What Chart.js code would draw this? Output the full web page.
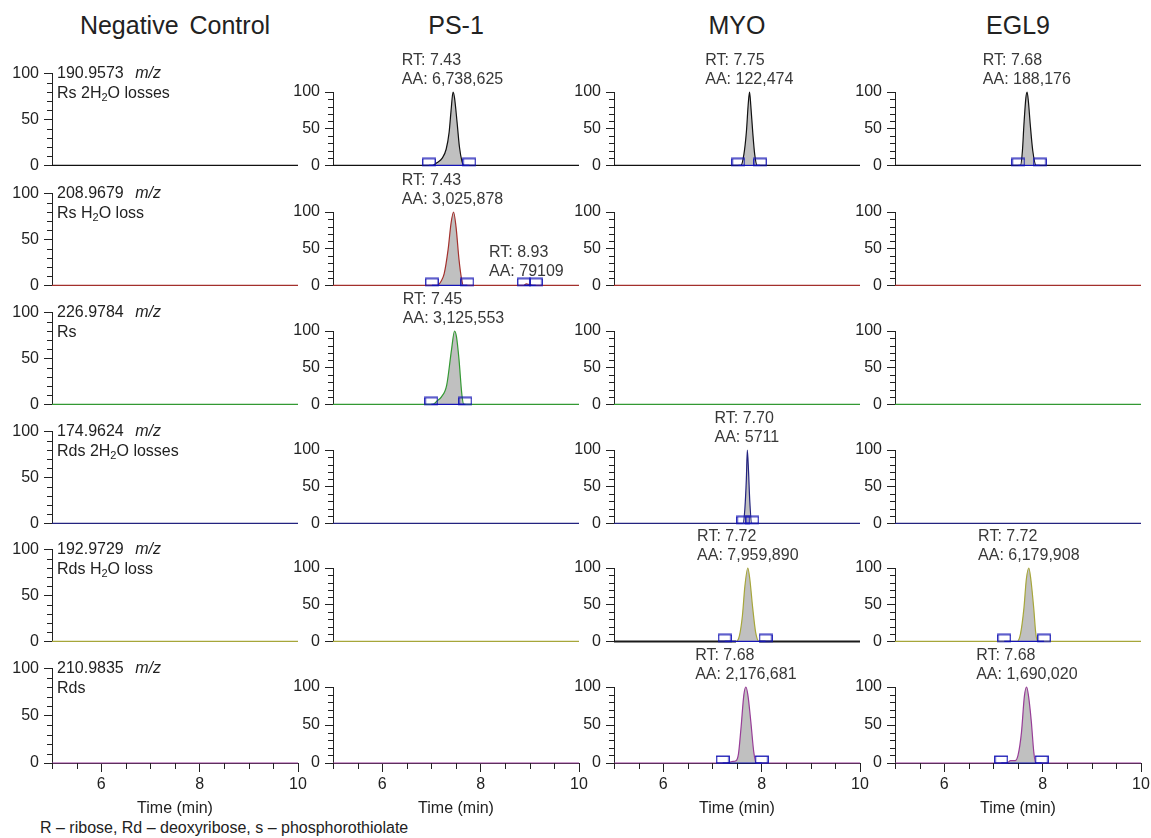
<!DOCTYPE html>
<html>
<head>
<meta charset="utf-8">
<script src="https://cdn.jsdelivr.net/npm/chart.js@4.4.1/dist/chart.umd.min.js"></script>
<style>
  body { margin: 0; background: #fff; width: 1151px; height: 838px; position: relative; overflow: hidden;
         font-family: Arial, "Liberation Sans", sans-serif; color: #222; }
  canvas { position: absolute; }
  .txt { position: absolute; white-space: nowrap; line-height: 1; }
  .title { font-size: 25px; word-spacing: 4px; transform: translate(-50%, -50%); }
  .lbl { font-size: 16px; transform: translateY(-50%); }
  .lbl sub { font-size: 11px; vertical-align: -3px; line-height: 0; }
  .axt { font-size: 16px; transform: translate(-50%, -50%); }
</style>
</head>
<body>
<script>
// ==========================================
// data
// ==========================================
const SAMPLES = ['Negative Control', 'PS-1', 'MYO', 'EGL9'];
const ION_MZ = ['190.9573', '208.9679', '226.9784', '174.9624', '192.9729', '210.9835'];
const ION_NAMES = ['Rs 2H2O losses', 'Rs H2O loss', 'Rs', 'Rds 2H2O losses', 'Rds H2O loss', 'Rds'];
const ION_COLORS = ['#111111', '#a3302c', '#339933', '#23237f', '#a6a63a', '#973c97'];

const X_MAJOR = [6, 8, 10];
const X_MINOR = [5, 5.5, 6.5, 7, 7.5, 8.5, 9, 9.5];
const Y_MAJOR = [0, 50, 100];
const Y_MINOR = [10, 20, 30, 40, 60, 70, 80, 90];
const X_TITLE = 'Time (min)';
const FOOTNOTE = 'R \u2013 ribose, Rd \u2013 deoxyribose, s \u2013 phosphorothiolate';

// traces: [time (min), relative abundance (%)]
const FLAT = [[5, 0], [10, 0]];
const PS1_RS_2H2O = [[5, 0], [7.02, 0], [7.12, 4], [7.22, 10], [7.30, 22], [7.36, 45], [7.40, 75], [7.44, 100], [7.47, 92], [7.52, 60], [7.57, 25], [7.62, 6], [7.66, 0], [10, 0]];
const PS1_RS_H2O = [[5, 0], [7.12, 0], [7.20, 6], [7.26, 16], [7.34, 49], [7.40, 85], [7.45, 100], [7.50, 80], [7.56, 36], [7.61, 10], [7.65, 0], [8.87, 0], [8.93, 2], [8.99, 1], [9.06, 0], [10, 0]];
const PS1_RS = [[5, 0], [7.03, 0], [7.12, 5], [7.20, 10], [7.31, 26], [7.41, 75], [7.47, 100], [7.51, 92], [7.56, 62], [7.62, 13], [7.66, 0], [10, 0]];
const MYO_RS_2H2O = [[5, 0], [7.58, 0], [7.64, 15], [7.69, 45], [7.73, 85], [7.755, 100], [7.78, 82], [7.82, 45], [7.86, 15], [7.91, 0], [10, 0]];
const MYO_RDS_2H2O = [[5, 0], [7.62, 0], [7.66, 20], [7.69, 60], [7.71, 100], [7.735, 70], [7.76, 30], [7.80, 0], [10, 0]];
const MYO_RDS_H2O = [[5, 0], [7.48, 0], [7.55, 8], [7.61, 35], [7.66, 75], [7.72, 100], [7.76, 85], [7.82, 45], [7.88, 12], [7.95, 0], [10, 0]];
const MYO_RDS = [[5, 0], [7.30, 0], [7.40, 2], [7.48, 3], [7.53, 12], [7.58, 45], [7.64, 90], [7.68, 100], [7.72, 90], [7.78, 55], [7.84, 15], [7.89, 0], [10, 0]];
const EGL9_RS_2H2O = [[5, 0], [7.55, 0], [7.59, 20], [7.62, 55], [7.66, 92], [7.685, 100], [7.71, 88], [7.75, 55], [7.80, 20], [7.87, 0], [10, 0]];
const EGL9_RDS_H2O = [[5, 0], [7.48, 0], [7.55, 10], [7.62, 45], [7.67, 85], [7.72, 100], [7.76, 85], [7.82, 45], [7.86, 12], [7.90, 0], [10, 0]];
const EGL9_RDS = [[5, 0], [7.27, 0], [7.35, 3], [7.44, 3], [7.50, 10], [7.57, 40], [7.63, 88], [7.675, 100], [7.71, 90], [7.77, 55], [7.82, 15], [7.86, 0], [10, 0]];

// integration bounds (min), one pair per peak
const PS1_RS_2H2O_BOUNDS = [[6.95, 7.77]];
const PS1_RS_H2O_BOUNDS = [[7.01, 7.73], [8.88, 9.12]];
const PS1_RS_BOUNDS = [[7.00, 7.69]];
const MYO_RS_2H2O_BOUNDS = [[7.53, 7.97]];
const MYO_RDS_2H2O_BOUNDS = [[7.63, 7.81]];
const MYO_RDS_H2O_BOUNDS = [[7.25, 8.08]];
const MYO_RDS_BOUNDS = [[7.21, 8.00]];
const EGL9_RS_2H2O_BOUNDS = [[7.51, 7.94]];
const EGL9_RDS_H2O_BOUNDS = [[7.22, 8.03]];
const EGL9_RDS_BOUNDS = [[7.16, 7.98]];

// peak labels: RT, area, apex (%)
const PS1_RS_2H2O_PEAKS = [['7.43', '6,738,625', 100]];
const PS1_RS_H2O_PEAKS = [['7.43', '3,025,878', 100], ['8.93', '79109', 2]];
const PS1_RS_PEAKS = [['7.45', '3,125,553', 100]];
const MYO_RS_2H2O_PEAKS = [['7.75', '122,474', 100]];
const MYO_RDS_2H2O_PEAKS = [['7.70', '5711', 100]];
const MYO_RDS_H2O_PEAKS = [['7.72', '7,959,890', 100]];
const MYO_RDS_PEAKS = [['7.68', '2,176,681', 100]];
const EGL9_RS_2H2O_PEAKS = [['7.68', '188,176', 100]];
const EGL9_RDS_H2O_PEAKS = [['7.72', '6,179,908', 100]];
const EGL9_RDS_PEAKS = [['7.68', '1,690,020', 100]];

// rows = ions, columns = samples
const TRACE_GRID = [
    [FLAT, PS1_RS_2H2O, MYO_RS_2H2O, EGL9_RS_2H2O],
    [FLAT, PS1_RS_H2O, FLAT, FLAT],
    [FLAT, PS1_RS, FLAT, FLAT],
    [FLAT, FLAT, MYO_RDS_2H2O, FLAT],
    [FLAT, FLAT, MYO_RDS_H2O, EGL9_RDS_H2O],
    [FLAT, FLAT, MYO_RDS, EGL9_RDS]
];
const BOUNDS_GRID = [
    [[], PS1_RS_2H2O_BOUNDS, MYO_RS_2H2O_BOUNDS, EGL9_RS_2H2O_BOUNDS],
    [[], PS1_RS_H2O_BOUNDS, [], []],
    [[], PS1_RS_BOUNDS, [], []],
    [[], [], MYO_RDS_2H2O_BOUNDS, []],
    [[], [], MYO_RDS_H2O_BOUNDS, EGL9_RDS_H2O_BOUNDS],
    [[], [], MYO_RDS_BOUNDS, EGL9_RDS_BOUNDS]
];
const PEAK_GRID = [
    [[], PS1_RS_2H2O_PEAKS, MYO_RS_2H2O_PEAKS, EGL9_RS_2H2O_PEAKS],
    [[], PS1_RS_H2O_PEAKS, [], []],
    [[], PS1_RS_PEAKS, [], []],
    [[], [], MYO_RDS_2H2O_PEAKS, []],
    [[], [], MYO_RDS_H2O_PEAKS, EGL9_RDS_H2O_PEAKS],
    [[], [], MYO_RDS_PEAKS, EGL9_RDS_PEAKS]
];

// ==========================================
// layout
// ==========================================
const PLOT_LEFT = [52, 333, 614, 895];
const PLOT_W = 246;
const PLOT_H = [95, 76, 76, 76];
const BASELINE = [168, 288, 407, 526, 644, 763];
const Y_AXIS_W = 52;
const PAD_RIGHT = 16;
const FONT = 'Arial, "Liberation Sans", sans-serif';
const INK = '#222';

function addText(cls, html, left, top) {
    const d = document.createElement('div');
    d.className = 'txt ' + cls;
    d.innerHTML = html;
    d.style.left = left + 'px';
    d.style.top = top + 'px';
    document.body.appendChild(d);
}

const subH2O = s => s.replace('H2O', 'H<sub>2</sub>O');

// blue open box marking integration limits, sits on the baseline
function boxMarker() {
    const c = document.createElement('canvas');
    c.width = 14; c.height = 16;
    const g = c.getContext('2d');
    g.strokeStyle = '#1414b4';
    g.lineWidth = 1.3;
    g.strokeRect(0.75, 1.2, 12.5, 6.8);
    return c;
}
const MARKER = boxMarker();

function makeExtras(peaks, showX) {
    return {
        id: 'extras',
        afterDraw(chart) {
            const { ctx, chartArea } = chart;
            const xs = chart.scales.x, ys = chart.scales.y;
            ctx.save();
            ctx.strokeStyle = INK;
            ctx.lineWidth = 1;
            ctx.beginPath();
            Y_MINOR.forEach(v => {
                const y = Math.round(ys.getPixelForValue(v)) + 0.5;
                ctx.moveTo(chartArea.left - 5, y);
                ctx.lineTo(chartArea.left, y);
            });
            if (showX) {
                X_MINOR.forEach(v => {
                    const x = Math.round(xs.getPixelForValue(v)) + 0.5;
                    ctx.moveTo(x, chartArea.bottom);
                    ctx.lineTo(x, chartArea.bottom + 6);
                });
            }
            ctx.stroke();

            ctx.font = '16px ' + FONT;
            ctx.fillStyle = '#383838';
            ctx.textBaseline = 'middle';
            ctx.textAlign = 'left';
            peaks.forEach(([rt, area, apex]) => {
                const x = xs.getPixelForValue(parseFloat(rt));
                const y = ys.getPixelForValue(apex);
                const aa = 'AA: ' + area;
                const left = x - ctx.measureText(aa).width / 2;
                ctx.fillText('RT: ' + rt, left, y - 31);
                ctx.fillText(aa, left, y - 12);
            });
            ctx.restore();
        }
    };
}

function boundsData(pairs) {
    const out = [];
    pairs.forEach((p, i) => {
        if (i > 0) out.push({ x: (pairs[i - 1][1] + p[0]) / 2, y: null });
        out.push({ x: p[0], y: 0 }, { x: p[1], y: 0 });
    });
    return out;
}

function drawPanel(row, col) {
    const last = row === ION_MZ.length - 1;
    const padTop = col === 0 ? 14 : 44;
    const padBottom = last ? 0 : 12;
    const xAxisH = last ? 34 : 0;
    const plotTop = BASELINE[row] - PLOT_H[col];

    const canvas = document.createElement('canvas');
    canvas.width = Y_AXIS_W + PLOT_W + PAD_RIGHT;
    canvas.height = padTop + PLOT_H[col] + padBottom + xAxisH;
    canvas.style.left = (PLOT_LEFT[col] - Y_AXIS_W) + 'px';
    canvas.style.top = (plotTop - padTop) + 'px';
    document.body.appendChild(canvas);

    const color = ION_COLORS[row];
    // MYO / Rds H2O loss has a dark baseline under the trace
    const darkBase = row === 4 && col === 2;

    new Chart(canvas, {
        type: 'line',
        data: {
            datasets: [
                {
                    data: boundsData(BOUNDS_GRID[row][col]),
                    showLine: true,
                    spanGaps: false,
                    borderColor: '#1414b4',
                    borderWidth: 1.2,
                    pointStyle: MARKER,
                    pointRadius: 6,
                    clip: false
                },
                {
                    data: TRACE_GRID[row][col].map(([x, y]) => ({ x, y })),
                    borderColor: color,
                    borderWidth: 1.2,
                    backgroundColor: '#c0c0c0',
                    fill: 'origin',
                    pointRadius: 0,
                    cubicInterpolationMode: 'monotone',
                    clip: false,
                    segment: darkBase ? {
                        borderColor: c => (c.p0.parsed.y === 0 && c.p1.parsed.y === 0) ? '#1a1a1a' : undefined,
                        borderWidth: c => (c.p0.parsed.y === 0 && c.p1.parsed.y === 0) ? 2 : undefined
                    } : {}
                }
            ]
        },
        options: {
            responsive: false,
            animation: false,
            events: [],
            devicePixelRatio: 1,
            layout: { padding: { left: 0, right: PAD_RIGHT, top: padTop, bottom: padBottom } },
            plugins: { legend: { display: false }, tooltip: { enabled: false } },
            scales: {
                x: {
                    type: 'linear',
                    min: 5,
                    max: 10,
                    display: last,
                    afterBuildTicks: s => { s.ticks = X_MAJOR.map(v => ({ value: v })); },
                    afterFit: s => { s.height = xAxisH; },
                    grid: { drawOnChartArea: false, drawTicks: true, tickLength: 9, color: INK },
                    border: { display: true, color: INK, width: 1 },
                    ticks: { padding: 3, maxRotation: 0, color: INK, font: { family: FONT, size: 16 } }
                },
                y: {
                    min: 0,
                    max: 100,
                    afterBuildTicks: s => { s.ticks = Y_MAJOR.map(v => ({ value: v })); },
                    afterFit: s => { s.width = Y_AXIS_W; },
                    grid: { drawOnChartArea: false, drawTicks: true, tickLength: 8, color: INK },
                    border: { display: true, color: INK, width: 1 },
                    ticks: { padding: 5, color: INK, font: { family: FONT, size: 16 } }
                }
            }
        },
        plugins: [makeExtras(PEAK_GRID[row][col], last)]
    });
}

// column headers
SAMPLES.forEach((name, col) => addText('title', name, PLOT_LEFT[col] + PLOT_W / 2, 25));

// panels
for (let row = 0; row < ION_MZ.length; row++) {
    for (let col = 0; col < SAMPLES.length; col++) drawPanel(row, col);
}

// ion labels in the first column
ION_MZ.forEach((mz, row) => {
    const plotTop = BASELINE[row] - PLOT_H[0];
    addText('lbl', mz + ' <i style="margin-left:7px">m/z</i>', 57, plotTop);
    addText('lbl', subH2O(ION_NAMES[row]), 57, plotTop + 20);
});

// x axis titles and footnote
SAMPLES.forEach((_, col) => addText('axt', X_TITLE, PLOT_LEFT[col] + PLOT_W / 2, 808));
addText('lbl', FOOTNOTE, 40, 828);
</script>
</body>
</html>
